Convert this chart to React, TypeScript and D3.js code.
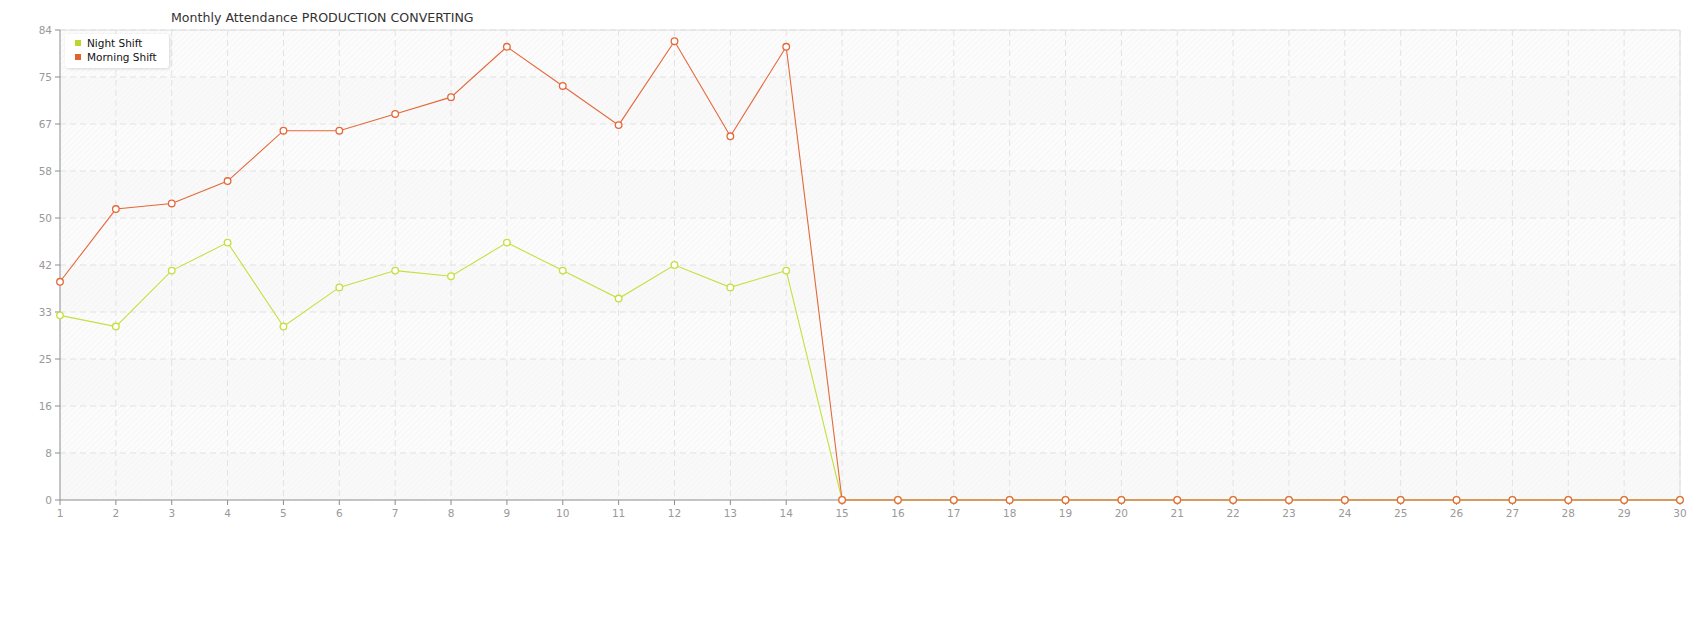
import React from "react";
import * as d3 from "d3";

const days: number[] = Array.from({ length: 30 }, (_, i) => i + 1);
const nightShift: number[] = [33, 31, 41, 46, 31, 38, 41, 40, 46, 41, 36, 42, 38, 41, 0, 0, 0, 0, 0, 0, 0, 0, 0, 0, 0, 0, 0, 0, 0, 0];
const morningShift: number[] = [39, 52, 53, 57, 66, 66, 69, 72, 81, 74, 67, 82, 65, 81, 0, 0, 0, 0, 0, 0, 0, 0, 0, 0, 0, 0, 0, 0, 0, 0];
const yMax = 84;
const yTickValues: number[] = d3.range(0, 11).map((i) => (yMax * i) / 10);
const title = "Monthly Attendance PRODUCTION CONVERTING";
const seriesNames = ["Night Shift", "Morning Shift"];
const colors = ["#c6df3e", "#e5683a"];
const legendColors = ["#b8d82c", "#e0622c"];

const W = 1700, H = 630;
const M = { left: 60, right: 20, top: 30, bottom: 130 };

export default function App() {
  const x = d3.scaleLinear().domain([1, 30]).range([M.left, W - M.right]);
  const y = d3.scaleLinear().domain([0, yMax]).range([H - M.bottom, M.top]);
  const line = d3.line<number>().x((_, i) => x(days[i])).y((d) => y(d));
  const series = [nightShift, morningShift];
  const font = "'DejaVu Sans', Verdana, sans-serif";
  return (
    <svg width={W} height={H} style={{ position: "absolute", left: 0, top: 0, background: "#fff" }} fontFamily={font}>
      <defs>
        <pattern id="hatch" width="4" height="4" patternUnits="userSpaceOnUse" patternTransform="rotate(45)">
          <rect width="4" height="4" fill="#fcfcfc" />
          <line x1="0" y1="0" x2="0" y2="4" stroke="#f1f1f1" strokeWidth="1" />
        </pattern>
        <filter id="shadow" x="-20%" y="-20%" width="140%" height="160%">
          <feDropShadow dx="1" dy="1" stdDeviation="1.5" floodColor="#000" floodOpacity="0.15" />
        </filter>
      </defs>
      <text x={171} y={22} fontSize={12.6} fill="#333">{title}</text>
      <rect x={M.left} y={M.top} width={W - M.left - M.right} height={H - M.top - M.bottom} fill="url(#hatch)" />
      {yTickValues.slice(0, -1).map((v, i) =>
        i % 2 === 0 ? (
          <rect key={"b" + i} x={M.left} y={y(yTickValues[i + 1])} width={W - M.left - M.right} height={y(v) - y(yTickValues[i + 1])} fill="#f6f6f6" opacity={0.5} />
        ) : null
      )}
      {yTickValues.slice(1).map((v, i) => (
        <line key={"gy" + i} x1={M.left} x2={W - M.right} y1={y(v)} y2={y(v)} stroke="#e2e2e2" strokeDasharray="6,4" />
      ))}
      {days.slice(1).map((d) => (
        <line key={"gx" + d} x1={x(d)} x2={x(d)} y1={M.top} y2={H - M.bottom} stroke="#e2e2e2" strokeDasharray="6,4" />
      ))}
      <path d={`M${M.left},${M.top}H${W - M.right}V${H - M.bottom}`} fill="none" stroke="#dedede" />
      <line x1={M.left} x2={M.left} y1={M.top} y2={H - M.bottom} stroke="#8c8c8c" />
      <line x1={M.left} x2={W - M.right} y1={H - M.bottom} y2={H - M.bottom} stroke="#8c8c8c" />
      {yTickValues.map((v, i) => (
        <g key={"ty" + i}>
          <line x1={M.left - 5} x2={M.left} y1={y(v)} y2={y(v)} stroke="#8c8c8c" />
          <text x={M.left - 8} y={y(v) + 4} textAnchor="end" fontSize={10.5} fill="#999">{Math.floor(v + 1e-9)}</text>
        </g>
      ))}
      {days.map((d) => (
        <g key={"tx" + d}>
          <line x1={x(d)} x2={x(d)} y1={H - M.bottom} y2={H - M.bottom + 5} stroke="#8c8c8c" />
          <text x={x(d)} y={H - M.bottom + 17} textAnchor="middle" fontSize={10.5} fill="#999">{d}</text>
        </g>
      ))}
      {series.map((s, si) => (
        <g key={"s" + si}>
          <path d={line(s) || ""} fill="none" stroke={colors[si]} strokeWidth={1.1} />
          {s.map((v, i) => (
            <circle key={i} cx={x(days[i])} cy={y(v)} r={3.3} fill="#fff" stroke={colors[si]} strokeWidth={1.3} />
          ))}
        </g>
      ))}
      <g transform="translate(65,34)">
        <rect x={0} y={0} width={104} height={34} rx={4} fill="#fff" filter="url(#shadow)" />
        {seriesNames.map((n, i) => (
          <g key={n} transform={`translate(10,${9 + i * 14})`}>
            <rect x={0} y={-3} width={6} height={6} fill={legendColors[i]} />
            <text x={12} y={4} fontSize={10.5} fill="#111">{n}</text>
          </g>
        ))}
      </g>
    </svg>
  );
}
